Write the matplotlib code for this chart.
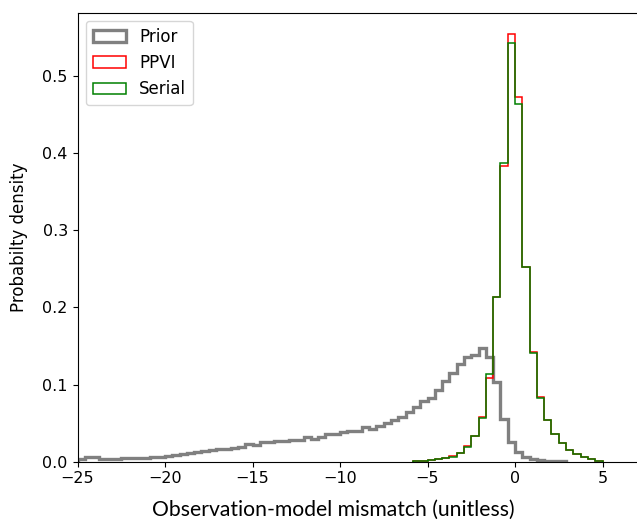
import numpy as np
import matplotlib
matplotlib.use("Agg")
import matplotlib.pyplot as plt

# shared bin edges (-25 .. 5, 72 bins)
edges = np.linspace(-25, 5, 73)

# prior density, bins 0..66
prior = [0.004, 0.0055, 0.0055, 0.004, 0.0035, 0.004, 0.005, 0.005, 0.005, 0.0052,
         0.0055, 0.0065, 0.0068, 0.0085, 0.0104, 0.011, 0.012, 0.0138, 0.0156, 0.016,
         0.017, 0.018, 0.0195, 0.0235, 0.0217, 0.025, 0.026, 0.0268, 0.0272, 0.028,
         0.028, 0.0324, 0.029, 0.0324, 0.0359, 0.0359, 0.038, 0.040, 0.040, 0.0453,
         0.0427, 0.0462, 0.0505, 0.054, 0.058, 0.065, 0.071, 0.078, 0.082, 0.093,
         0.105, 0.115, 0.126, 0.135, 0.138, 0.147, 0.135, 0.103, 0.055, 0.026,
         0.012, 0.0065, 0.004, 0.0025, 0.0015, 0.001, 0.0005]

# posterior densities, bins 46..71
post_start = 46
ppvi = [0.0005, 0.001, 0.002, 0.003, 0.0046, 0.0068, 0.0112, 0.0198, 0.0335, 0.0575,
        0.108, 0.2135, 0.383, 0.554, 0.473, 0.252, 0.1415, 0.0835, 0.054, 0.0362,
        0.0248, 0.0155, 0.0105, 0.0065, 0.0035, 0.0015]
serial = [0.0005, 0.001, 0.002, 0.003, 0.0044, 0.0066, 0.011, 0.0195, 0.033, 0.057,
          0.113, 0.2135, 0.387, 0.5425, 0.464, 0.252, 0.141, 0.083, 0.054, 0.036,
          0.0245, 0.0155, 0.0105, 0.0065, 0.0035, 0.0015]

plt.rcParams["font.size"] = 11.5

fig = plt.figure(figsize=(6.37, 5.23), dpi=100)
ax = fig.add_axes([77.5 / 637, 61.3 / 523, 560 / 637, 449 / 523])

pe = edges[:len(prior) + 1]
ax.hist(pe[:-1], bins=pe, weights=prior, histtype="step", color="grey", lw=2.4, label="Prior")
qe = edges[post_start:post_start + len(ppvi) + 1]
ax.hist(qe[:-1], bins=qe, weights=ppvi, histtype="step", color="red", lw=1.1, label="PPVI")
ax.hist(qe[:-1], bins=qe, weights=serial, histtype="step", color="green", lw=1.1, label="Serial")

ax.set_xlim(-25, 7)
ax.set_ylabel("Probabilty density", fontsize=12)
ax.yaxis.set_label_coords(-0.088, 0.5)
fig.text(333 / 637, 1 - 510 / 523, "Observation-model mismatch (unitless)",
         family="Lato", fontsize=15.2, ha="center", va="center")
ax.legend(loc="upper left", fontsize=12)

fig.savefig("out.png", dpi=100)
